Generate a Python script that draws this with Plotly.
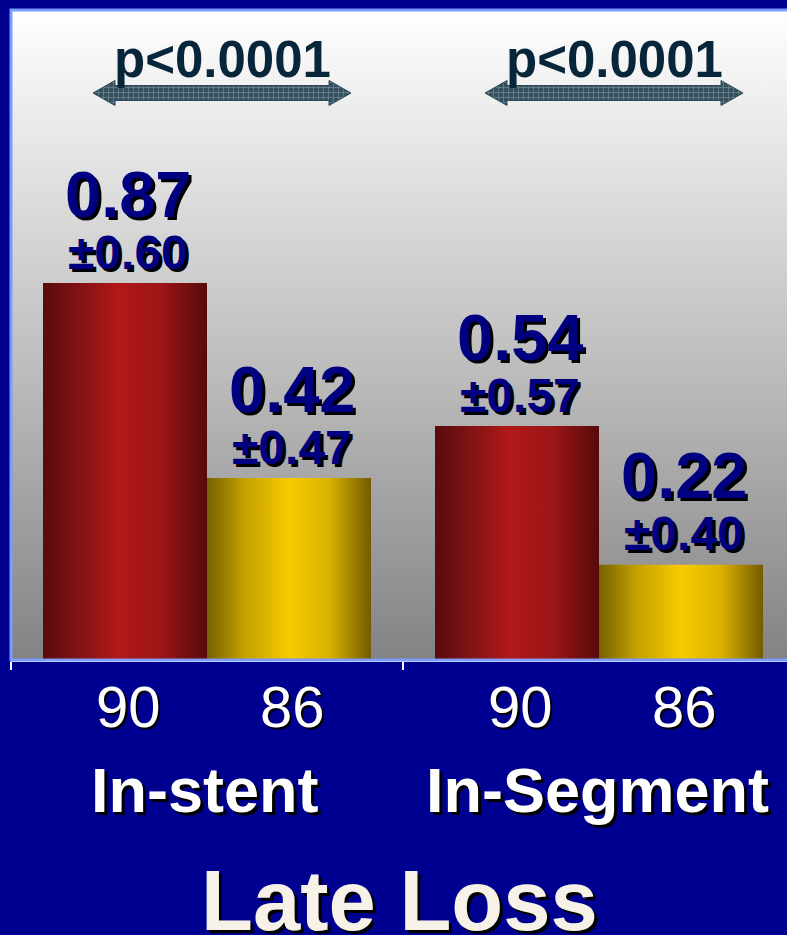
import plotly.graph_objects as go

# Late loss (mm) by analysis segment, two treatment arms
groups = ["In-stent", "In-Segment"]
control_mean = [0.87, 0.54]
control_sd = [0.60, 0.57]
control_n = [90, 90]
treated_mean = [0.42, 0.22]
treated_sd = [0.47, 0.40]
treated_n = [86, 86]
p_values = ["p<0.0001", "p<0.0001"]
title = "Late Loss"

NAVY_BG = "#000090"
FONT = "Liberation Sans, Arial, sans-serif"

# geometry (axis units: one group = 1 x-unit)
W, H = 787, 935
ML, MT, MB = 11, 10, 275
plot_w = W - ML
px_per_x = 392.0
x_range = [-0.5, -0.5 + plot_w / px_per_x]
y_range = [0, 1.5]
px_per_y = (H - MT - MB) / (y_range[1] - y_range[0])
bar_off = 82 / px_per_x
bar_w = 164 / px_per_x

RED_SCALE = [[0.0, "#580b0d"], [0.2, "#7e1214"], [0.45, "#b11819"],
             [0.72, "#9c1516"], [1.0, "#570a0b"]]
GOLD_SCALE = [[0.0, "#776000"], [0.22, "#c29f00"], [0.5, "#f8cb00"],
              [0.75, "#d8b000"], [1.0, "#735b00"]]

fig = go.Figure()

# plot-area background: vertical white-to-grey gradient
fig.add_trace(go.Scatter(
    x=[x_range[0], x_range[1], x_range[1], x_range[0], x_range[0]],
    y=[y_range[0], y_range[0], y_range[1], y_range[1], y_range[0]],
    mode="lines", line=dict(width=0), fill="toself",
    fillgradient=dict(type="vertical",
                      colorscale=[[0, "#838383"], [0.45, "#bdbdbd"], [1, "#ffffff"]]),
    hoverinfo="skip", showlegend=False))


def add_bar(xc, value, scale):
    x0, x1 = xc - bar_w / 2, xc + bar_w / 2
    fig.add_trace(go.Scatter(
        x=[x0, x1, x1, x0, x0], y=[0, 0, value, value, 0],
        mode="lines", line=dict(width=0), fill="toself",
        fillgradient=dict(type="horizontal", colorscale=scale),
        hoverinfo="skip", showlegend=False))


annotations = []


def value_labels(xc, mean, sd):
    annotations.append(dict(
        x=xc, y=mean, xref="x", yref="y", text=f"{mean:.2f}", showarrow=False,
        xshift=3, yshift=89, yanchor="middle",
        font=dict(family=FONT, size=65, color="#000080", weight="bold",
                  shadow="3px 3px 0px #000000")))
    annotations.append(dict(
        x=xc, y=mean, xref="x", yref="y", text=f"±{sd:.2f}", showarrow=False,
        xshift=3, yshift=31, yanchor="middle",
        font=dict(family=FONT, size=48, color="#000080", weight="bold",
                  shadow="3px 3px 0px #000000")))


for gi, g in enumerate(groups):
    xc_red = gi - bar_off
    xc_gold = gi + bar_off
    add_bar(xc_red, control_mean[gi], RED_SCALE)
    add_bar(xc_gold, treated_mean[gi], GOLD_SCALE)
    value_labels(xc_red, control_mean[gi], control_sd[gi])
    value_labels(xc_gold, treated_mean[gi], treated_sd[gi])

    # sample sizes under the axis
    for xc, n in ((xc_red, control_n[gi]), (xc_gold, treated_n[gi])):
        annotations.append(dict(
            x=xc, y=0, xref="x", yref="paper", text=str(n), showarrow=False,
            xshift=3, yshift=-46, yanchor="middle",
            font=dict(family=FONT, size=58, color="#ffffff",
                      shadow="2px 2px 0px #000000")))
    # group name
    annotations.append(dict(
        x=gi, y=0, xref="x", yref="paper", text=g, showarrow=False,
        xshift=-2, yshift=-130, yanchor="middle",
        font=dict(family=FONT, size=63, color="#ffffff", weight="bold",
                  shadow="3px 3px 0px #000000")))

    # p-value bracket: double-headed hatched arrow
    ac = gi + 15 / px_per_x
    half = 129 / px_per_x
    head = 22 / px_per_x
    ya = (660 - 93) / px_per_y
    sh = 7.5 / px_per_y
    hh = 12.5 / px_per_y
    ax = [ac - half, ac - half + head, ac - half + head, ac + half - head,
          ac + half - head, ac + half, ac + half - head, ac + half - head,
          ac - half + head, ac - half + head, ac - half]
    ay = [ya, ya + hh, ya + sh, ya + sh, ya + hh, ya, ya - hh, ya - sh,
          ya - sh, ya - hh, ya]
    fig.add_trace(go.Scatter(
        x=ax, y=ay, mode="lines", line=dict(width=1, color="#2c4858"),
        fill="toself", fillcolor="#3a5666",
        fillpattern=dict(shape="+", bgcolor="#34505f", fgcolor="#9fb4bd",
                         size=5, solidity=0.3),
        hoverinfo="skip", showlegend=False))
    annotations.append(dict(
        x=ac, y=ya, xref="x", yref="y", text=p_values[gi], showarrow=False,
        yshift=34, yanchor="middle",
        font=dict(family=FONT, size=51, color="#08263a", weight="bold")))

# chart title beneath everything
annotations.append(dict(
    x=0.5, y=0, xref="paper", yref="paper", text=title, showarrow=False,
    yshift=-240, yanchor="middle",
    font=dict(family=FONT, size=85, color="#f6f2e8", weight="bold",
              shadow="3px 3px 0px #000000")))

fig.update_layout(
    width=W, height=H,
    margin=dict(l=ML, r=0, t=MT, b=MB, pad=0),
    paper_bgcolor=NAVY_BG, plot_bgcolor="#ffffff",
    showlegend=False,
    annotations=annotations,
    xaxis=dict(range=x_range, showgrid=False, zeroline=False,
               showline=True, linecolor="#ffffff", linewidth=2,
               tickvals=[-0.5, 0.5], ticktext=["", ""],
               ticks="outside", ticklen=8, tickwidth=2, tickcolor="#ffffff",
               fixedrange=True),
    yaxis=dict(range=y_range, showgrid=False, zeroline=False,
               showticklabels=False, ticks="", showline=False, fixedrange=True),
    shapes=[dict(type="rect", xref="paper", yref="paper",
                 x0=0, x1=1.05, y0=0, y1=1,
                 line=dict(color="#7b9bff", width=3), layer="above")],
)

fig.write_html("out.html")
